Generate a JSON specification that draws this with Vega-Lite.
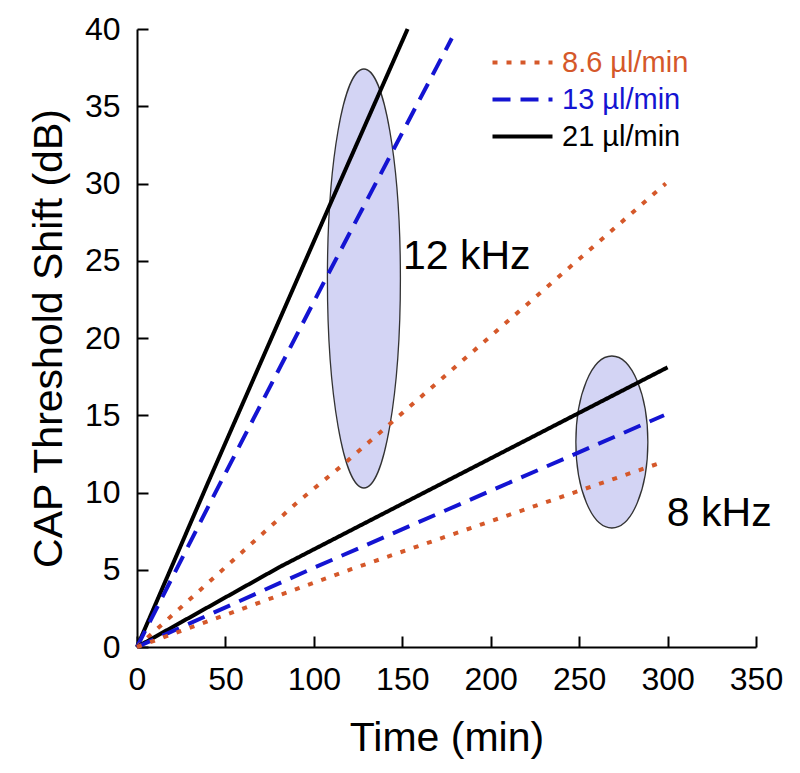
{
  "$schema": "https://vega.github.io/schema/vega-lite/v6.json",
  "width": 619,
  "height": 618,
  "autosize": {"type": "none"},
  "padding": {"left": 137, "top": 29, "right": 44, "bottom": 126},
  "background": "white",
  "config": {
    "view": {"stroke": null},
    "font": "Liberation Sans",
    "axis": {
      "domainColor": "black",
      "domainWidth": 2,
      "tickColor": "black",
      "tickWidth": 2,
      "tickSize": -11,
      "labelPadding": 28,
      "labelFont": "Liberation Sans",
      "labelFontSize": 32,
      "labelColor": "black",
      "labelFlush": false,
      "labelOverlap": false,
      "labelBound": false,
      "titleFont": "Liberation Sans",
      "titleFontSize": 41,
      "titleFontWeight": "normal",
      "titleColor": "black",
      "grid": false
    }
  },
  "datasets": {
    "lines": [
      {"time": 0, "shift": 0, "rate": "21 µl/min", "freq": "12 kHz"},
      {"time": 40, "shift": 10.6, "rate": "21 µl/min", "freq": "12 kHz"},
      {"time": 109, "shift": 28.6, "rate": "21 µl/min", "freq": "12 kHz"},
      {"time": 153, "shift": 40, "rate": "21 µl/min", "freq": "12 kHz"},
      {"time": 0, "shift": 0, "rate": "13 µl/min", "freq": "12 kHz"},
      {"time": 43, "shift": 9.7, "rate": "13 µl/min", "freq": "12 kHz"},
      {"time": 107, "shift": 23.9, "rate": "13 µl/min", "freq": "12 kHz"},
      {"time": 178, "shift": 39.4, "rate": "13 µl/min", "freq": "12 kHz"},
      {"time": 0, "shift": 0, "rate": "8.6 µl/min", "freq": "12 kHz"},
      {"time": 91, "shift": 9.4, "rate": "8.6 µl/min", "freq": "12 kHz"},
      {"time": 116.5, "shift": 11.8, "rate": "8.6 µl/min", "freq": "12 kHz"},
      {"time": 299, "shift": 30, "rate": "8.6 µl/min", "freq": "12 kHz"},
      {"time": 0, "shift": 0, "rate": "21 µl/min", "freq": "8 kHz"},
      {"time": 81, "shift": 5.2, "rate": "21 µl/min", "freq": "8 kHz"},
      {"time": 300, "shift": 18.1, "rate": "21 µl/min", "freq": "8 kHz"},
      {"time": 0, "shift": 0, "rate": "13 µl/min", "freq": "8 kHz"},
      {"time": 99.5, "shift": 5.1, "rate": "13 µl/min", "freq": "8 kHz"},
      {"time": 298, "shift": 15, "rate": "13 µl/min", "freq": "8 kHz"},
      {"time": 0, "shift": 0, "rate": "8.6 µl/min", "freq": "8 kHz"},
      {"time": 121.5, "shift": 5.05, "rate": "8.6 µl/min", "freq": "8 kHz"},
      {"time": 298, "shift": 12, "rate": "8.6 µl/min", "freq": "8 kHz"}
    ],
    "ellipses": [
      {"time": 128.3, "shift": 23.85, "freq": "12 kHz"},
      {"time": 268.5, "shift": 13.27, "freq": "8 kHz"}
    ],
    "labels": [
      {"time": 150.4, "shift": 24.47, "label": "12 kHz"},
      {"time": 299.6, "shift": 7.83, "label": "8 kHz"}
    ]
  },
  "encoding": {
    "x": {
      "field": "time",
      "type": "quantitative",
      "scale": {"domain": [0, 350], "nice": false, "zero": false},
      "axis": {
        "title": "Time (min)",
        "values": [0, 50, 100, 150, 200, 250, 300, 350],
        "titleY": 103,
        "titleBaseline": "alphabetic"
      }
    },
    "y": {
      "field": "shift",
      "type": "quantitative",
      "scale": {"domain": [0, 40], "nice": false, "zero": false},
      "axis": {
        "title": "CAP Threshold Shift (dB)",
        "values": [0, 5, 10, 15, 20, 25, 30, 35, 40],
        "titleX": -76,
        "titleBaseline": "alphabetic",
        "titleAngle": -90
      }
    }
  },
  "layer": [
    {
      "data": {"name": "ellipses"},
      "transform": [{"filter": "datum.freq === '12 kHz'"}],
      "mark": {
        "type": "point",
        "filled": true,
        "fill": "#d3d4f4",
        "stroke": "#333333",
        "strokeWidth": 1.3,
        "opacity": 1,
        "fillOpacity": 1,
        "strokeOpacity": 1,
        "shape": "M0,-1A0.1742,1 0 1,1 0,1A0.1742,1 0 1,1 0,-1Z",
        "size": 175561
      }
    },
    {
      "data": {"name": "ellipses"},
      "transform": [{"filter": "datum.freq === '8 kHz'"}],
      "mark": {
        "type": "point",
        "filled": true,
        "fill": "#d3d4f4",
        "stroke": "#333333",
        "strokeWidth": 1.3,
        "opacity": 1,
        "fillOpacity": 1,
        "strokeOpacity": 1,
        "shape": "M0,-1A0.4186,1 0 1,1 0,1A0.4186,1 0 1,1 0,-1Z",
        "size": 29584
      }
    },
    {
      "data": {"name": "lines"},
      "mark": {"type": "line", "strokeWidth": 4, "strokeCap": "butt"},
      "encoding": {
        "detail": {"field": "freq"},
        "color": {
          "field": "rate",
          "type": "nominal",
          "scale": {
            "domain": ["8.6 µl/min", "13 µl/min", "21 µl/min"],
            "range": ["#d5582a", "#1414d2", "#000000"]
          },
          "legend": {
            "orient": "none",
            "legendX": 371,
            "legendY": 19,
            "title": null,
            "symbolType": "M-3,0H3",
            "symbolSize": 400,
            "symbolStrokeWidth": 4,
            "labelFont": "Liberation Sans",
            "labelFontSize": 29,
            "labelOffset": 25,
            "rowPadding": 7,
            "labelLimit": 400,
            "encode": {"labels": {"update": {"fill": {"scale": "color", "field": "value"}}}}
          }
        },
        "strokeDash": {
          "field": "rate",
          "type": "nominal",
          "scale": {
            "domain": ["8.6 µl/min", "13 µl/min", "21 µl/min"],
            "range": [[5, 9], [18, 10], [1, 0]]
          }
        }
      }
    },
    {
      "data": {"name": "labels"},
      "mark": {
        "type": "text",
        "align": "left",
        "baseline": "alphabetic",
        "font": "Liberation Sans",
        "fontSize": 41,
        "color": "black"
      },
      "encoding": {"text": {"field": "label"}}
    }
  ]
}
